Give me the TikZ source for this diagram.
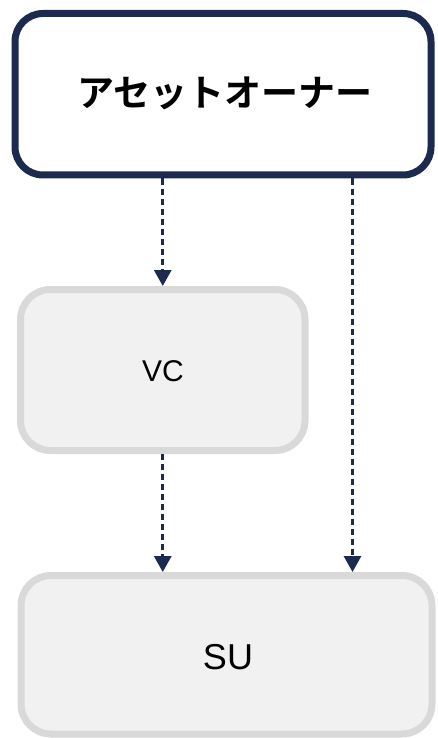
\documentclass[tikz,border=0pt]{standalone}
\usepackage{fontspec}
\setmainfont{Liberation Sans}
\newfontfamily\jpfont{Noto Sans CJK JP}[BoldFont={* Bold}]
\usetikzlibrary{arrows.meta}
\definecolor{navy}{HTML}{1C2A4F}
\definecolor{boxgray}{HTML}{D9D9D9}
\definecolor{boxfill}{HTML}{F1F1F1}
\begin{document}
\begin{tikzpicture}[x=1pt,y=-1pt,
  ownerbox/.style={draw=navy, line width=7pt, fill=white, rounded corners=28pt,
    inner sep=0pt},
  plainbox/.style={draw=boxgray, line width=7pt, fill=boxfill, rounded corners=30pt,
    inner sep=0pt},
  flow/.style={draw=navy, line width=3pt, dash pattern=on 6pt off 4pt,
    -{Triangle[width=17pt,length=16pt]}}
]
\useasboundingbox (0,0) rectangle (438,738);

% boxes
\node[ownerbox, minimum width=416pt, minimum height=161.5pt] (owner) at (223,94.25) {};
\node[font=\jpfont\bfseries\fontsize{37}{40}\selectfont] (ownerlabel) at (225,93) {アセットオーナー};

\node[plainbox, minimum width=284.5pt, minimum height=161pt] (vc) at (162.75,370) {};
\node[font=\fontsize{30}{34}\selectfont] (vclabel) at (163,371) {VC};

\node[plainbox, minimum width=411pt, minimum height=158.5pt] (su) at (226.5,654.75) {};
\node[font=\fontsize{36}{40}\selectfont] (sulabel) at (228,657) {SU};

% connectors
\coordinate (rx) at (352.5,0);
\draw[flow] (vc.north |- owner.south) -- (vc.north);
\draw[flow] (vc.south) -- (su.north -| vc.south);
\draw[flow] (owner.south -| rx) -- (su.north -| rx);
\end{tikzpicture}
\end{document}
